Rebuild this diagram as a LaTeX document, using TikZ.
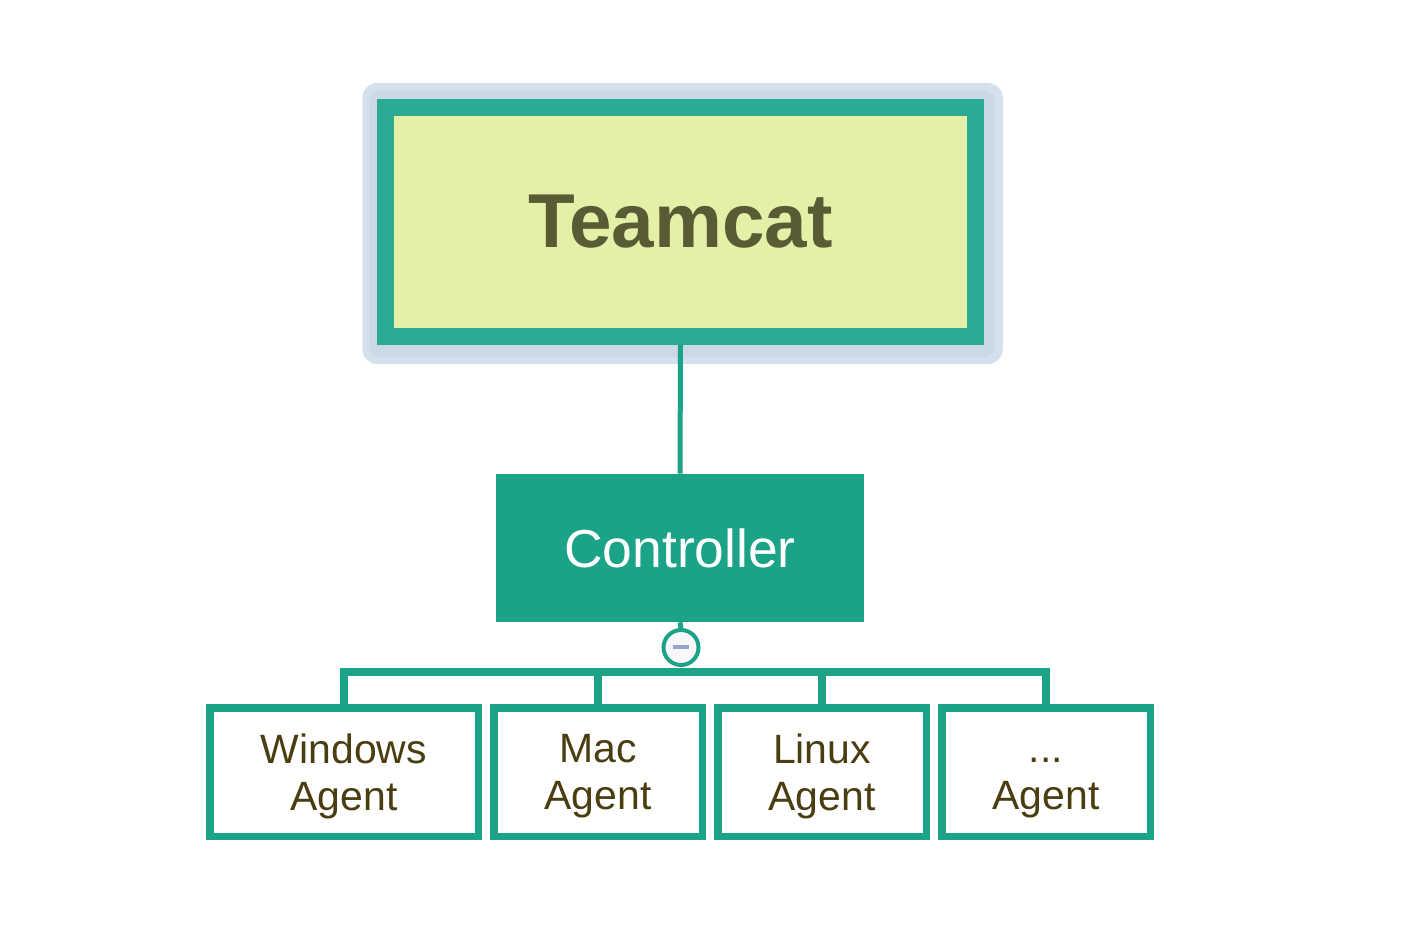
\documentclass[tikz,border=0pt]{standalone}
\usepackage{fontspec}
\setmainfont{Liberation Sans}
\usetikzlibrary{positioning, calc, backgrounds}
\definecolor{BranchTeal}{HTML}{1BA387}
\definecolor{FrameTeal}{HTML}{2DAA94}
\definecolor{PaleYellow}{HTML}{E4F0A8}
\definecolor{OliveText}{HTML}{595B34}
\definecolor{AgentText}{HTML}{4A3D10}
\definecolor{GlowBlue}{HTML}{D4E1EC}
\definecolor{GlowShade}{HTML}{C9D9E5}
\definecolor{MinusBlue}{HTML}{98A3CE}
\definecolor{KnobFill}{HTML}{F8F8FA}

\begin{document}
\begin{tikzpicture}[
    root/.style={rectangle, draw=FrameTeal, line width=0.34cm, fill=PaleYellow,
                 minimum width=11.79cm, minimum height=4.58cm,
                 font=\fontsize{43.5}{50}\selectfont\bfseries, text=OliveText},
    ctrl/.style={rectangle, fill=BranchTeal, minimum width=7.36cm, minimum height=2.96cm,
                 font=\fontsize{30.4}{36}\selectfont, text=white},
    agent/.style={rectangle, draw=BranchTeal, line width=0.15cm, fill=white,
                  minimum width=4.17cm, minimum height=2.57cm, align=center,
                  text depth=0pt, font=\fontsize{23.3}{26.7}\selectfont, text=AgentText},
    knob/.style={circle, draw=BranchTeal, line width=0.08cm, fill=KnobFill,
                 minimum size=0.7cm, inner sep=0pt},
    link/.style={BranchTeal, line width=0.1cm},
    branch/.style={BranchTeal, line width=0.16cm}
]
    \useasboundingbox (0,0) rectangle (28.08,-18.6);

    % Server and controller
    \node[root] (teamcat) at (13.61,-4.44) {Teamcat};
    \node[ctrl] (controller) at (13.6,-10.96) {Controller};
    \node[knob] (knob) at (13.62,-12.95)
        {\textcolor{MinusBlue}{\rule[-0.04cm]{0.32cm}{0.08cm}}};

    % Agents
    \node[agent, minimum width=5.37cm] (windows) at (6.88,-15.44) {Windows\\Agent};
    \node[agent] (mac) at (11.96,-15.44) {Mac\\Agent};
    \node[agent] (linux) at (16.44,-15.44) {Linux\\Agent};
    \node[agent] (more) at (20.92,-15.44) {\vphantom{L}...\\Agent};

    % Selection glow around the server
    \begin{scope}[on background layer]
        \fill[GlowBlue, rounded corners=0.3cm]
            ($(teamcat.north west)+(-0.3,0.32)$) rectangle ($(teamcat.south east)+(0.38,-0.38)$);
        \fill[GlowShade, rounded corners=0.2cm]
            ($(teamcat.north west)+(-0.16,0.16)$) rectangle ($(teamcat.south east)+(0.22,-0.24)$);
    \end{scope}

    % Connectors
    \draw[link] (teamcat.south) -- (controller.north);
    \draw[link] (controller.south) -- (knob.north);
    \coordinate (hub) at ($(knob.south)+(0,-0.1)$);
    \foreach \a in {windows,mac,linux,more} {
        \draw[branch] (hub) -| (\a.north);
    }
\end{tikzpicture}
\end{document}
